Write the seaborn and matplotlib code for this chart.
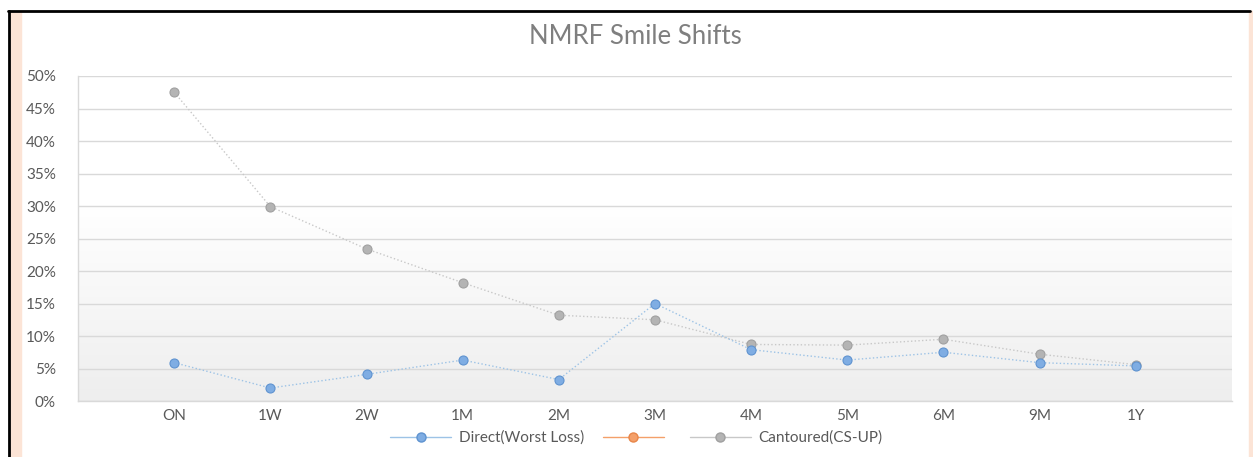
"""NMRF smile shifts by tenor, Excel-style line chart."""
import matplotlib.pyplot as plt
import matplotlib.patches as mpatches
from matplotlib.lines import Line2D
from matplotlib.colors import LinearSegmentedColormap
from matplotlib.ticker import MultipleLocator, PercentFormatter
import numpy as np
import pandas as pd
import seaborn as sns

tenors = ["ON", "1W", "2W", "1M", "2M", "3M", "4M", "5M", "6M", "9M", "1Y"]
direct_worst_loss = [0.059, 0.020, 0.041, 0.063, 0.033, 0.150, 0.079, 0.063, 0.075, 0.059, 0.054]
cantoured_cs_up = [0.475, 0.299, 0.234, 0.182, 0.132, 0.125, 0.087, 0.086, 0.095, 0.072, 0.056]

BLUE = "#7FADE3"
BLUE_EDGE = "#5F93D0"
BLUE_LINE = "#9DC3E6"
ORANGE = "#F4A06A"
ORANGE_EDGE = "#E8864A"
GREY = "#B4B4B4"
GREY_EDGE = "#A0A0A0"
GREY_LINE = "#C8C8C8"
TEXT = "#595959"

sns.set_theme(style="white")
plt.rcParams["font.family"] = ["Lato", "DejaVu Sans"]

fig = plt.figure(figsize=(12.53, 4.57), dpi=100)
ax = fig.add_axes([0.0623, 0.1225, 0.9209, 0.7112])

# frame bits around the chart (screenshot border)
fig.patches.append(mpatches.Rectangle((10 / 1253, 0), 11 / 1253, 446 / 457,
                                      transform=fig.transFigure, color="#FCE4D6", zorder=0))
fig.patches.append(mpatches.Rectangle((1249 / 1253, 0), 4 / 1253, 446 / 457,
                                      transform=fig.transFigure, color="#FCE4D6", zorder=0))
fig.add_artist(Line2D([8 / 1253, 1250 / 1253], [446 / 457, 446 / 457],
                      transform=fig.transFigure, color="black", lw=2))
fig.add_artist(Line2D([9 / 1253, 9 / 1253], [0, 446 / 457],
                      transform=fig.transFigure, color="black", lw=2))

# soft vertical gradient in the plot area
cmap = LinearSegmentedColormap.from_list("bg", ["#EEEEEE", "#FFFFFF"])
grad = np.clip(np.linspace(0, 1, 256) / 0.6, 0, 1).reshape(-1, 1)
ax.imshow(grad, cmap=cmap, aspect="auto", origin="lower",
          extent=[0, 1, 0, 1], transform=ax.transAxes, zorder=0)

df = pd.DataFrame({
    "tenor": tenors,
    "Direct(Worst Loss)": direct_worst_loss,
    "Cantoured(CS-UP)": cantoured_cs_up,
})

sns.lineplot(data=df, x="tenor", y="Cantoured(CS-UP)", sort=False, ax=ax,
             color=GREY_LINE, linestyle=":", linewidth=1.0, marker="o", markersize=6.5,
             markerfacecolor=GREY, markeredgecolor=GREY_EDGE, markeredgewidth=0.8, zorder=3)
sns.lineplot(data=df, x="tenor", y="Direct(Worst Loss)", sort=False, ax=ax,
             color=BLUE_LINE, linestyle=":", linewidth=1.0, marker="o", markersize=6.5,
             markerfacecolor=BLUE, markeredgecolor=BLUE_EDGE, markeredgewidth=0.8, zorder=4)

ax.set_xlim(-1, len(tenors))
ax.set_ylim(0, 0.5)
ax.yaxis.set_major_locator(MultipleLocator(0.05))
ax.yaxis.set_major_formatter(PercentFormatter(1.0, decimals=0))
ax.grid(axis="y", color="#D9D9D9", linewidth=1.0)
ax.set_axisbelow(True)
ax.set_xlabel("")
ax.set_ylabel("")
ax.tick_params(axis="both", length=0, labelsize=11, colors=TEXT)
ax.tick_params(axis="y", pad=16)
ax.tick_params(axis="x", pad=6)
for side in ["top", "right"]:
    ax.spines[side].set_visible(False)
for side in ["left", "bottom"]:
    ax.spines[side].set_color("#D9D9D9")
    ax.spines[side].set_linewidth(1.0)

fig.text(0.507, 1 - 36 / 457, "NMRF Smile Shifts", ha="center", va="center",
         fontsize=18.5, color="#7F7F7F")

handles = [
    Line2D([], [], color=BLUE_LINE, lw=1, marker="o", markersize=6.5, markerfacecolor=BLUE,
           markeredgecolor=BLUE_EDGE),
    Line2D([], [], color=ORANGE, lw=1, marker="o", markersize=6.5, markerfacecolor=ORANGE,
           markeredgecolor=ORANGE_EDGE),
    Line2D([], [], color=GREY_LINE, lw=1, marker="o", markersize=6.5, markerfacecolor=GREY,
           markeredgecolor=GREY_EDGE),
]
fig.legend(handles, ["Direct(Worst Loss)", "", "Cantoured(CS-UP)"], loc="center",
           bbox_to_anchor=(0.508, 1 - 438 / 457), ncol=3, frameon=False, fontsize=11,
           labelcolor=TEXT, handlelength=4.0, columnspacing=1.2, handletextpad=0.5)

fig.savefig("out.png", dpi=100)
